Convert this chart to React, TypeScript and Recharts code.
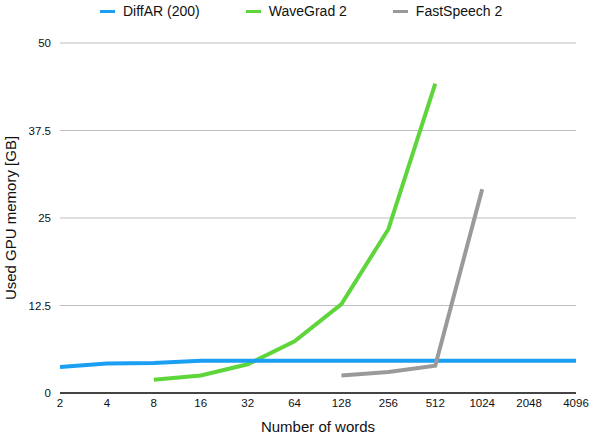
import {
  LineChart,
  Line,
  XAxis,
  YAxis,
  CartesianGrid,
  Legend,
} from 'recharts';

const wordCounts = ['2', '4', '8', '16', '32', '64', '128', '256', '512', '1024', '2048', '4096'];
const diffAR = [3.7, 4.2, 4.3, 4.6, 4.6, 4.6, 4.6, 4.6, 4.6, 4.6, 4.6, 4.6];
const waveGrad2 = [null, null, 1.9, 2.5, 4.1, 7.4, 12.7, 23.4, 44.2, null, null, null];
const fastSpeech2 = [null, null, null, null, null, null, 2.5, 3.0, 3.9, 29.1, null, null];
const yTicks = [0, 12.5, 25, 37.5, 50];

const series = [
  { key: 'diffar', name: 'DiffAR (200)', color: '#1a9ff3' },
  { key: 'wavegrad', name: 'WaveGrad 2', color: '#5fd53c' },
  { key: 'fastspeech', name: 'FastSpeech 2', color: '#9a9a9a' },
];

const data = wordCounts.map((w, i) => ({
  words: w,
  diffar: diffAR[i],
  wavegrad: waveGrad2[i],
  fastspeech: fastSpeech2[i],
}));

const font = '"Liberation Sans", Arial, Helvetica, sans-serif';

function ChartLegend() {
  return (
    <div style={{ display: 'flex', alignItems: 'center', paddingLeft: 100, height: 20, fontFamily: font, fontSize: 14, color: '#111' }}>
      {series.map((s, i) => (
        <div key={s.key} style={{ display: 'flex', alignItems: 'center', marginRight: i < series.length - 1 ? 46 : 0 }}>
          <span style={{ display: 'inline-block', width: 15, height: 3, background: s.color, marginRight: 8 }} />
          <span>{s.name}</span>
        </div>
      ))}
    </div>
  );
}

export default function App() {
  return (
    <div style={{ position: 'absolute', left: 0, top: 0, background: '#fff' }}>
      <LineChart width={589} height={435} data={data} margin={{ top: 43, right: 13, left: 0, bottom: 0 }}>
        <CartesianGrid vertical={false} stroke="#bdbdbd" />
        <XAxis
          dataKey="words"
          height={42}
          tickLine={false}
          tickSize={0}
          tickMargin={6}
          axisLine={{ stroke: '#111', strokeWidth: 1.5 }}
          tick={{ fontSize: 11.5, fill: '#111', fontFamily: font }}
          interval={0}
          label={{ value: 'Number of words', position: 'insideBottom', offset: 3, style: { fontSize: 15, fill: '#111', fontFamily: font } }}
        />
        <YAxis
          width={60}
          domain={[0, 50]}
          ticks={yTicks}
          tickLine={false}
          axisLine={false}
          tickSize={0}
          tickMargin={9}
          tick={{ fontSize: 11.5, fill: '#111', fontFamily: font }}
          label={{
            content: () => (
              <text x={10} y={218} transform="rotate(-90 10 218)" textAnchor="middle" dominantBaseline="central" style={{ fontSize: 15, fill: '#111', fontFamily: font }}>
                Used GPU memory [GB]
              </text>
            ),
          }}
        />
        <Legend verticalAlign="middle" wrapperStyle={{ top: 1, left: 0, width: 589 }} content={() => <ChartLegend />} />
        <Line type="linear" dataKey="wavegrad" name="WaveGrad 2" stroke={series[1].color} strokeWidth={4} dot={false} isAnimationActive={false} />
        <Line type="linear" dataKey="diffar" name="DiffAR (200)" stroke={series[0].color} strokeWidth={4} dot={false} isAnimationActive={false} />
        <Line type="linear" dataKey="fastspeech" name="FastSpeech 2" stroke={series[2].color} strokeWidth={4} dot={false} isAnimationActive={false} />
      </LineChart>
    </div>
  );
}
